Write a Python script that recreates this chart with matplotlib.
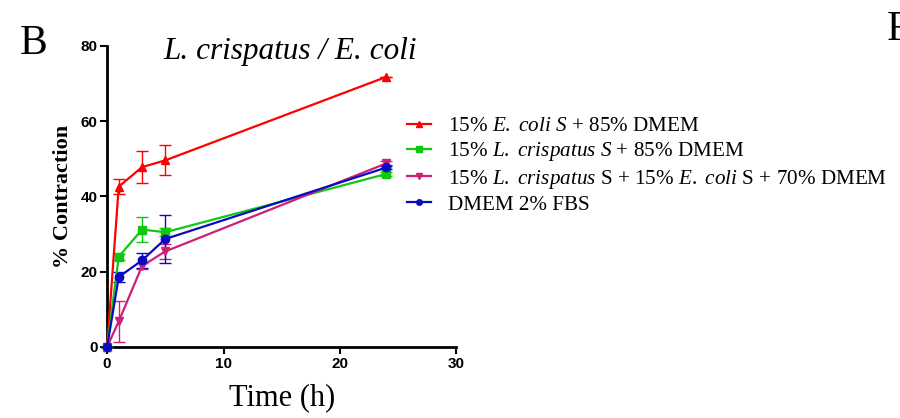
import numpy as np
import matplotlib
matplotlib.use("Agg")
import matplotlib.pyplot as plt

# ---- data ----
time_h = [0, 1, 3, 5, 24]

ecoli_mean = [0, 42.6, 47.8, 49.6, 71.8]
ecoli_err = [0, 2.0, 4.3, 4.0, 0]

lcris_mean = [0, 24.0, 31.2, 30.5, 46.0]
lcris_err = [0, 0.8, 3.4, 1.0, 0.5]

mix_mean = [0, 6.8, 21.5, 25.4, 48.8]
mix_err = [0, 5.5, 0.8, 2.0, 0.5]

dmem_mean = [0, 18.6, 23.0, 28.7, 47.7]
dmem_err = [0, 1.4, 2.0, 6.4, 0.5]

labels = [
    r"15% $\mathit{E.}$ $\mathit{coli}$ $\mathit{S}$ + 85% DMEM",
    r"15% $\mathit{L.}$ $\mathit{crispatus}$ $\mathit{S}$ + 85% DMEM",
    r"15% $\mathit{L.}$ $\mathit{crispatus}$ S + 15% $\mathit{E.}$ $\mathit{coli}$ S + 70% DMEM",
    "DMEM 2% FBS",
]

plt.rcParams["mathtext.fontset"] = "custom"
plt.rcParams["mathtext.rm"] = "Liberation Serif"
plt.rcParams["mathtext.it"] = "Liberation Serif:italic"

fig = plt.figure(figsize=(9, 4.18), dpi=100)
ax = fig.add_axes([0.119, 0.170, 0.388, 0.720])

series = [
    (ecoli_mean, ecoli_err, "#ff0000", "^"),
    (lcris_mean, lcris_err, "#10c810", "s"),
    (mix_mean, mix_err, "#cc1f7a", "v"),
    (dmem_mean, dmem_err, "#0a0ac0", "o"),
]

for (m, e, c, mk) in series:
    ax.errorbar(time_h, m, yerr=e, color=c, marker=mk, markersize=6,
                linewidth=1.6, elinewidth=1.0, capsize=4, capthick=1.0,
                clip_on=False, zorder=3)

# axes styling
ax.set_xlim(0, 30)
ax.set_ylim(0, 80)
ax.set_xticks([0, 10, 20, 30])
ax.set_yticks([0, 20, 40, 60, 80])
for s in ["top", "right"]:
    ax.spines[s].set_visible(False)
for s in ["left", "bottom"]:
    ax.spines[s].set_linewidth(2)
ax.tick_params(direction="out", length=5, width=1.5, pad=2)
for lab in ax.get_xticklabels() + ax.get_yticklabels():
    lab.set_fontfamily("Liberation Sans")
    lab.set_fontweight("bold")
    lab.set_fontsize(11)

ax.set_ylabel("% Contraction", family="Liberation Serif", fontweight="bold",
              fontsize=16, labelpad=5)
ax.set_xlabel("Time (h)", family="Liberation Serif", fontsize=22, labelpad=9)

fig.text(0.181, 0.86, "L. crispatus / E. coli", family="Liberation Serif",
         style="italic", fontsize=22.5)
fig.text(0.022, 0.87, "B", family="Liberation Serif", fontsize=30)
fig.text(0.985, 0.905, "F", family="Liberation Serif", fontsize=30)

leg_handles = [plt.Line2D([], [], color=c, marker=mk, markersize=4, linewidth=1.6)
               for (_, _, c, mk) in series]
fig.legend(leg_handles, labels, loc="upper left",
           bbox_to_anchor=(0.443, 0.742), frameon=False, handlelength=1.15,
           handletextpad=0.8, labelspacing=0.2, borderaxespad=0,
           prop={"family": "Liberation Serif", "size": 15.2})

fig.savefig("out.png", dpi=100)
